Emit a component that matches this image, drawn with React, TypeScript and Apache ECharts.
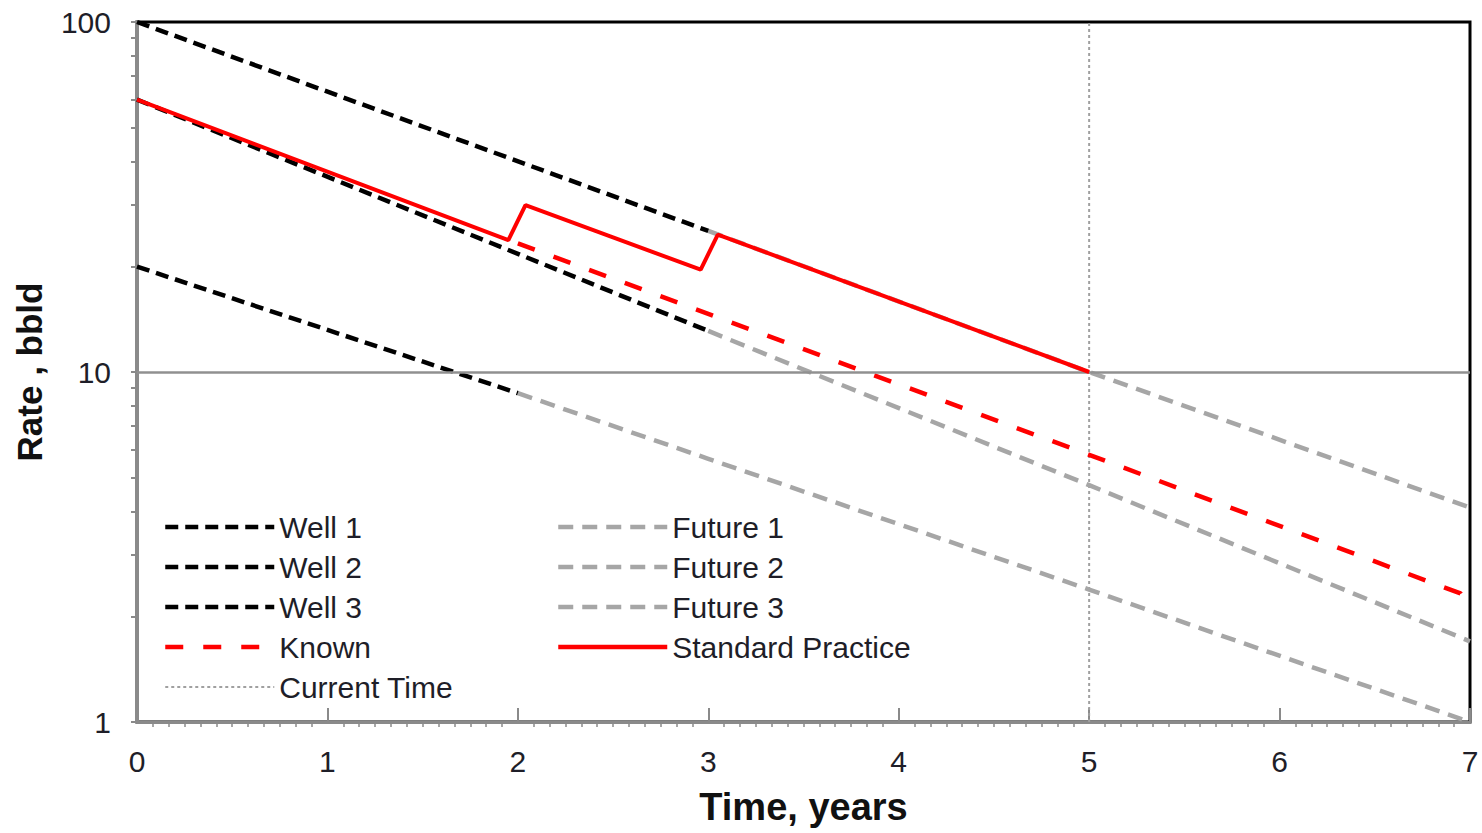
import React, { useEffect, useRef } from "react";
import * as echarts from "echarts";

// Producing wells: [time (years), rate (bbl/d)]
const well1 = [[0, 100], [3, 25.3]];
const well2 = [[0, 60], [3, 13.1]];
const well3 = [[0, 20], [2, 8.7]];

// Forecast continuation of each well
const future1 = [[3, 25.3], [5, 10], [7, 4.1]];
const future2 = [[3, 13.1], [5, 4.75], [7, 1.7]];
const future3 = [[2, 8.7], [3, 5.65], [5, 2.39], [7, 1.0]];

// Aggregate profiles
const known = [[2, 23.3], [5, 5.8], [6.95, 2.33], [7, 2.08]];
const standardPractice = [
  [0, 60],
  [1.95, 23.8],
  [2.04, 30.0],
  [2.96, 19.6],
  [3.05, 24.7],
  [5, 10],
];

// Current time marker and reference rate
const currentTime = [[5, 1], [5, 100]];
const referenceRate = 10;

// Axis ticks
const yTickValues = [1, 2, 3, 4, 5, 6, 7, 8, 9, 10, 20, 30, 40, 50, 60, 70, 80, 90, 100];
const legendLeft = ["Well 1", "Well 2", "Well 3", "Known", "Current Time"];
const legendRight = ["Future 1", "Future 2", "Future 3", "Standard Practice"];

const FONT = "'Liberation Sans', Arial, Helvetica, sans-serif";
const AXIS_GREY = "#8a8a8a";
const TEXT = "#1e1e28";

function lineSeries(
  name: string,
  data: number[][],
  color: string,
  width: number,
  type: any,
  z: number
) {
  return {
    name,
    type: "line",
    data,
    symbol: "none",
    showSymbol: false,
    silent: true,
    z,
    lineStyle: { color, width, type, cap: "butt" },
    itemStyle: { color },
  };
}

export default function App() {
  const ref = useRef<HTMLDivElement>(null);

  useEffect(() => {
    if (!ref.current) return;
    const chart = echarts.init(ref.current, undefined, { renderer: "svg" });

    const blackDash = [13, 7];
    const greyDash = [15, 9];
    const redDash = [18, 20];

    const legendCommon = {
      orient: "vertical",
      top: 507,
      itemWidth: 109,
      itemHeight: 16,
      itemGap: 10,
      selectedMode: false,
      itemStyle: { opacity: 0 },
      lineStyle: { width: 4.5 },
      textStyle: { fontSize: 30, lineHeight: 30, color: TEXT, fontFamily: FONT },
    };

    // the dotted marker keeps its thin stroke in the legend
    const legendLeftItems = legendLeft.map((name) =>
      name === "Current Time" ? { name, lineStyle: { width: 2 } } : { name }
    );

    const currentSeries: any = lineSeries("Current Time", currentTime, "#a0a0a0", 2, [3, 3], 1);
    currentSeries.markLine = {
      silent: true,
      symbol: ["none", "none"],
      label: { show: false },
      lineStyle: { color: "#909090", width: 2.5, type: "solid" },
      data: [{ yAxis: referenceRate }],
    };

    chart.setOption({
      animation: false,
      backgroundColor: "#ffffff",
      textStyle: { fontFamily: FONT },
      grid: {
        left: 137,
        right: 12,
        top: 22,
        bottom: 111,
        show: true,
        borderColor: "#000000",
        borderWidth: 3,
        containLabel: false,
        outerBoundsMode: "none",
      },
      legend: [
        { ...legendCommon, left: 158, data: legendLeftItems },
        { ...legendCommon, left: 551, data: legendRight },
      ],
      xAxis: [
        {
          type: "value",
          position: "bottom",
          min: 0,
          max: 7,
          interval: 1,
          name: "Time, years",
          nameLocation: "middle",
          nameGap: 66,
          nameTextStyle: { fontSize: 38, fontWeight: "bold", color: "#111", fontFamily: FONT },
          axisLine: { show: true, lineStyle: { color: AXIS_GREY, width: 3 } },
          axisTick: { show: true, inside: true, length: 14, lineStyle: { color: AXIS_GREY, width: 2 } },
          axisLabel: { fontSize: 30, color: TEXT, margin: 24, fontFamily: FONT },
          splitLine: { show: false },
        },
        {
          type: "value",
          position: "bottom",
          min: 0,
          max: 7,
          interval: 1,
          axisLine: { show: false },
          axisTick: { show: false, inside: false },
          axisLabel: { show: false },
          splitLine: { show: false },
          minorTick: { show: true, splitNumber: 12, length: 5, lineStyle: { color: AXIS_GREY, width: 1.5 } },
          minorSplitLine: { show: false },
        },
      ],
      yAxis: {
        type: "log",
        logBase: 10,
        min: 1,
        max: 100,
        name: "Rate , bbld",
        nameLocation: "middle",
        nameRotate: 90,
        nameGap: 90,
        nameTextStyle: { fontSize: 35, fontWeight: "bold", color: "#111", fontFamily: FONT },
        axisLine: { show: true, lineStyle: { color: AXIS_GREY, width: 4 } },
        axisTick: {
          show: true,
          inside: false,
          length: 6,
          customValues: yTickValues,
          lineStyle: { color: AXIS_GREY, width: 2 },
        },
        axisLabel: { fontSize: 30, color: TEXT, margin: 26, fontFamily: FONT },
        splitLine: { show: false },
      },
      series: [
        currentSeries,
        lineSeries("Future 1", future1, "#a6a6a6", 4.5, greyDash, 2),
        lineSeries("Future 2", future2, "#a6a6a6", 4.5, greyDash, 2),
        lineSeries("Future 3", future3, "#a6a6a6", 4.5, greyDash, 2),
        lineSeries("Well 1", well1, "#000000", 4.5, blackDash, 3),
        lineSeries("Well 2", well2, "#000000", 4.5, blackDash, 3),
        lineSeries("Well 3", well3, "#000000", 4.5, blackDash, 3),
        lineSeries("Known", known, "#ff0000", 4.5, redDash, 4),
        lineSeries("Standard Practice", standardPractice, "#ff0000", 4, "solid", 5),
      ],
    });

    return () => chart.dispose();
  }, []);

  return (
    <div
      ref={ref}
      style={{ position: "fixed", left: 0, top: 0, width: 1482, height: 833, background: "#fff" }}
    />
  );
}
